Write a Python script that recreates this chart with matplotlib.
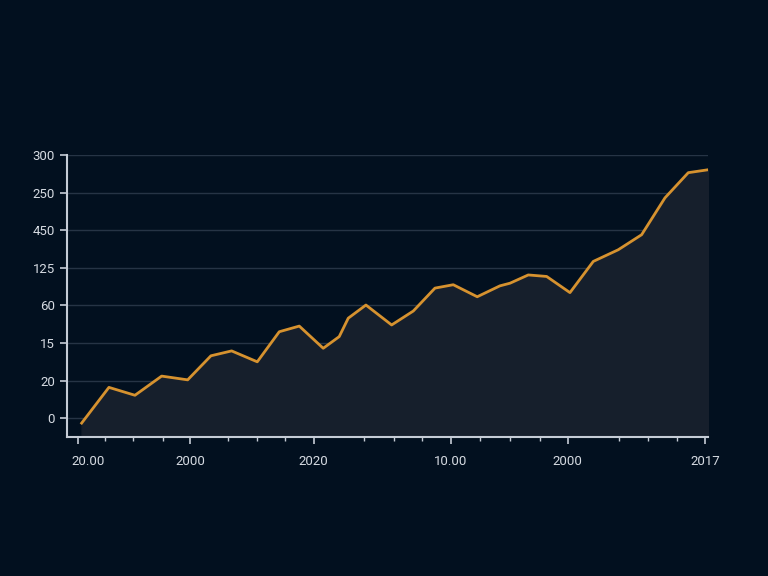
import matplotlib
matplotlib.use("Agg")
import matplotlib.pyplot as plt
import matplotlib.transforms as mtransforms
import numpy as np

plt.rcParams['font.family'] = ['Roboto', 'DejaVu Sans']

# series (x in axis units, y in grid steps)
x_vals = [0.59, 4.94, 9.09, 13.35, 17.50, 21.21, 24.51, 28.60, 32.11, 35.30,
          39.12, 41.67, 43.11, 45.93, 50.03, 53.48, 56.94, 59.86, 63.68, 67.30,
          68.90, 71.82, 74.75, 78.47, 82.19, 86.17, 89.90, 93.62, 97.34, 100.6]
y_vals = [-0.13, 0.82, 0.61, 1.12, 1.02, 1.66, 1.79, 1.50, 2.30, 2.45,
          1.86, 2.17, 2.66, 3.01, 2.48, 2.85, 3.46, 3.55, 3.23, 3.52,
          3.59, 3.81, 3.77, 3.34, 4.17, 4.48, 4.88, 5.86, 6.53, 6.61]

y_tick_labels = ["0", "20", "15", "60", "125", "450", "250", "300"]
x_major = [0, 17.9, 37.6, 59.5, 78.1, 100]
x_tick_labels = ["20.00", "2000", "2020", "10.00", "2000", "2017"]
x_minor = [4.24, 8.82, 13.51, 23.89, 28.53, 33.09, 45.66, 50.37, 54.86,
           64.11, 68.98, 73.68, 86.33, 90.96, 95.58]

bg = "#02101f"
fig = plt.figure(figsize=(7.68, 5.76), dpi=100, facecolor=bg)
ax = fig.add_axes([0.0872, 0.2413, 0.8348, 0.4896])
ax.set_facecolor(bg)

ax.fill_between(x_vals, y_vals, -0.5, color="#161f2c", zorder=1)
ax.plot(x_vals, y_vals, color="#d6922f", lw=2, zorder=3)

ax.set_xlim(-1.75, 100.5)
ax.set_ylim(-0.5, 7.0)

ax.set_yticks(range(len(y_tick_labels)))
ax.set_yticklabels(y_tick_labels)
ax.set_xticks(x_major)
ax.set_xticklabels(x_tick_labels)
ax.set_xticks(x_minor, minor=True)

ax.grid(axis="y", color="#263445", lw=1, zorder=0)
ax.set_axisbelow(True)

for s in ["top", "right"]:
    ax.spines[s].set_visible(False)
for s in ["left", "bottom"]:
    ax.spines[s].set_color("#c5ccd6")
    ax.spines[s].set_linewidth(1.5)

ax.tick_params(axis="both", which="major", colors="#c5ccd6", labelcolor="#d6dbe2",
               labelsize=9.5, length=5, width=1.2)
ax.tick_params(axis="x", which="major", pad=8)
ax.tick_params(axis="x", which="minor", colors="#c5ccd6", length=3, width=1)

# first x label sits a bit right of its tick in the reference
first = ax.get_xticklabels()[0]
first.set_transform(first.get_transform() +
                    mtransforms.ScaledTranslation(0.1, 0, fig.dpi_scale_trans))

fig.savefig("out.png", dpi=100, facecolor=bg)
